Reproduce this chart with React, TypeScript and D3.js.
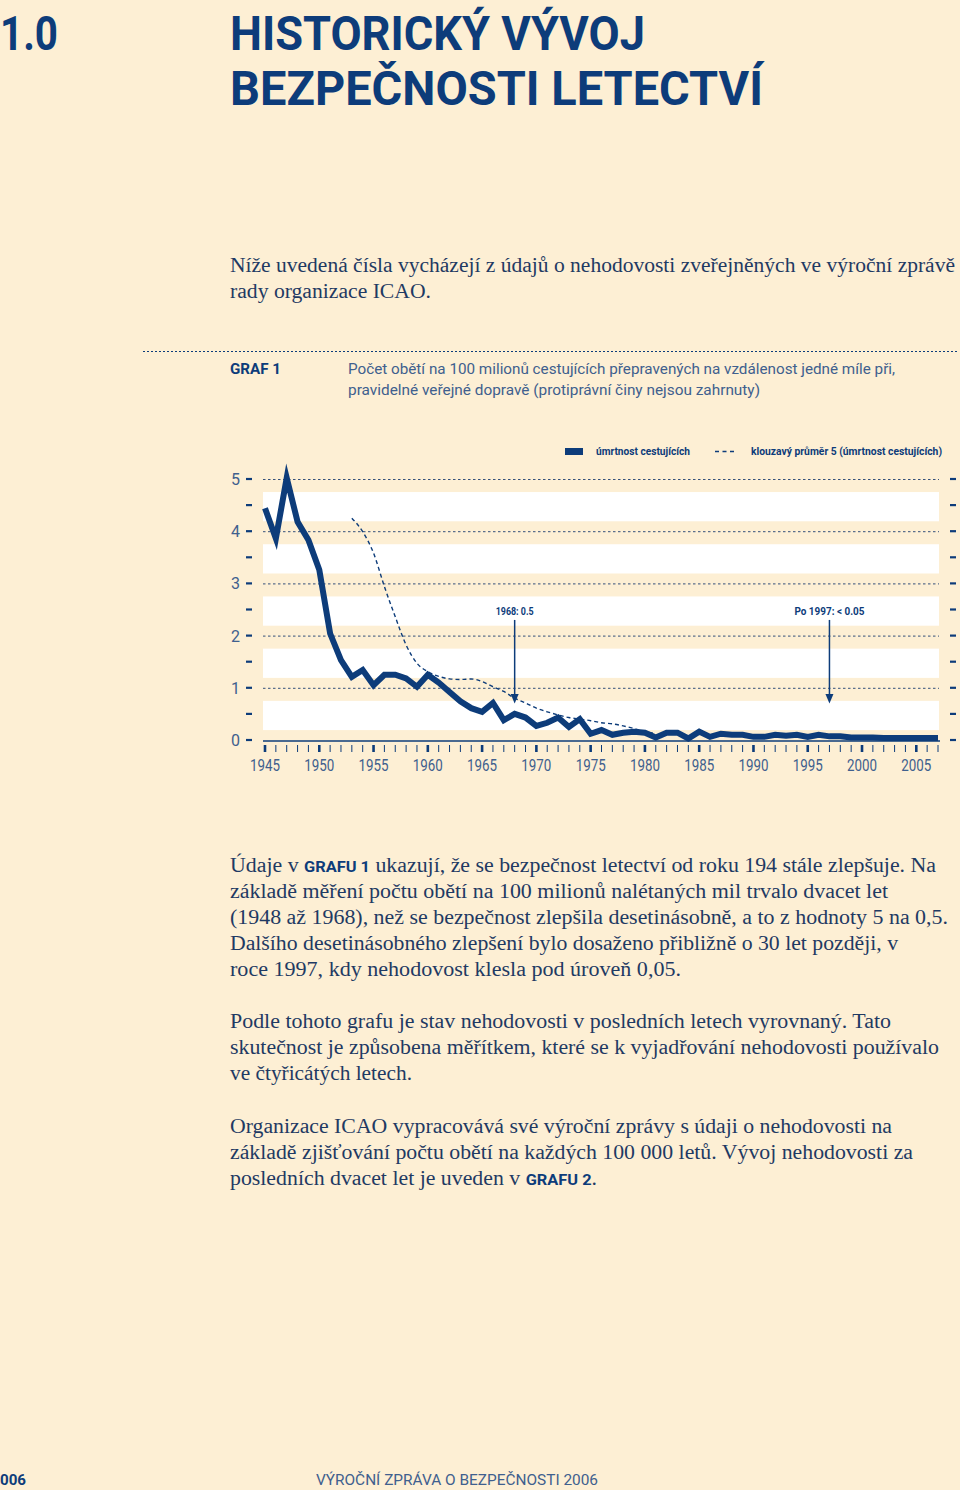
import React from "react";
import * as d3 from "d3";

// ---------- data ----------
const years: number[] = d3.range(1945, 2008);
const fatalities: number[] = [
  4.44, 3.86, 5.02, 4.18, 3.83, 3.26, 2.04, 1.53, 1.21, 1.34,
  1.05, 1.25, 1.25, 1.18, 1.02, 1.25, 1.10, 0.92, 0.74, 0.61,
  0.54, 0.71, 0.38, 0.50, 0.43, 0.27, 0.33, 0.43, 0.25, 0.40,
  0.12, 0.19, 0.10, 0.14, 0.16, 0.14, 0.05, 0.14, 0.14, 0.03,
  0.16, 0.06, 0.12, 0.10, 0.10, 0.06, 0.06, 0.10, 0.08, 0.10,
  0.06, 0.10, 0.07, 0.07, 0.05, 0.05, 0.05, 0.04, 0.04, 0.04,
  0.04, 0.04, 0.04,
];
const maYears: number[] = d3.range(1953, 1982);
const movingAvg: number[] = [
  4.25, 3.99, 3.58, 2.94, 2.36, 1.82, 1.47, 1.31, 1.22, 1.17,
  1.16, 1.17, 1.12, 1.02, 0.93, 0.80, 0.71, 0.61, 0.54, 0.48,
  0.43, 0.40, 0.37, 0.33, 0.31, 0.27, 0.22, 0.16, 0.12,
];
const yTickValues: number[] = [0, 1, 2, 3, 4, 5];
const xLabelYears: number[] = [1945, 1950, 1955, 1960, 1965, 1970, 1975, 1980, 1985, 1990, 1995, 2000, 2005];
const annotations = [
  { year: 1968, label: "1968: 0.5" },
  { year: 1997, label: "Po 1997: < 0.05" },
];
const legendLabels = ["úmrtnost cestujících", "klouzavý průměr 5 (úmrtnost cestujících)"];

const introLines = [
  "Níže uvedená čísla vycházejí z údajů o nehodovosti zveřejněných ve výroční zprávě",
  "rady organizace ICAO.",
];
const captionLines = [
  "Počet obětí na 100 milionů cestujících přepravených na vzdálenost jedné míle při,",
  "pravidelné veřejné dopravě (protiprávní činy nejsou zahrnuty)",
];

const NAVY = "#0d3c7a";
const TEXT = "#1f3a63";
const GREY = "#40608e";
const BG = "#fdefd4";

const SERIF = "'Liberation Serif', 'DejaVu Serif', serif";
const SANS = "Roboto, 'Open Sans', sans-serif";

type Seg = { t: string; bold?: boolean };
type Line = { segs: Seg[]; w: number; y: number };

const bodyLines: Line[] = [
  { segs: [{ t: "Údaje v " }, { t: "GRAFU 1", bold: true }, { t: " ukazují, že se bezpečnost letectví od roku 194 stále zlepšuje. Na" }], w: 706, y: 872 },
  { segs: [{ t: "základě měření počtu obětí na 100 milionů nalétaných mil trvalo dvacet let" }], w: 658, y: 898 },
  { segs: [{ t: "(1948 až 1968), než se bezpečnost zlepšila desetinásobně, a to z hodnoty 5 na 0,5." }], w: 718, y: 924 },
  { segs: [{ t: "Dalšího desetinásobného zlepšení bylo dosaženo přibližně o 30 let později, v" }], w: 668, y: 950 },
  { segs: [{ t: "roce 1997, kdy nehodovost klesla pod úroveň 0,05." }], w: 451, y: 976 },
  { segs: [{ t: "Podle tohoto grafu je stav nehodovosti v posledních letech vyrovnaný. Tato" }], w: 661, y: 1028 },
  { segs: [{ t: "skutečnost je způsobena měřítkem, které se k vyjadřování nehodovosti používalo" }], w: 709, y: 1054 },
  { segs: [{ t: "ve čtyřicátých letech." }], w: 182, y: 1080 },
  { segs: [{ t: "Organizace ICAO vypracovává své výroční zprávy s údaji o nehodovosti na" }], w: 662, y: 1133 },
  { segs: [{ t: "základě zjišťování počtu obětí na každých 100 000 letů. Vývoj nehodovosti za" }], w: 683, y: 1159 },
  { segs: [{ t: "posledních dvacet let je uveden v " }, { t: "GRAFU 2", bold: true }, { t: "." }], w: 367, y: 1185 },
];

export default function App() {
  const x = d3.scaleLinear().domain([1945, 2007]).range([265, 938]);
  const y = d3.scaleLinear().domain([0, 5]).range([740, 479]);

  const line = d3
    .line<number>()
    .x((_, i) => x(years[i]))
    .y((d) => y(d));
  const maLine = d3
    .line<number>()
    .x((_, i) => x(maYears[i]))
    .y((d) => y(d))
    .curve(d3.curveMonotoneX);

  const halfTicks = d3.range(0, 5.01, 0.5);
  const bandCenters = [0.5, 1.5, 2.5, 3.5, 4.5];
  const gridLeft = 263;
  const gridRight = 939;

  return (
    <svg
      width={960}
      height={1490}
      style={{ position: "absolute", left: 0, top: 0, display: "block" }}
    >
      <rect x={0} y={0} width={960} height={1490} fill={BG} />

      {/* Title */}
      <g fill={NAVY} fontFamily={SANS} fontWeight={700} fontSize={49}>
        <text x={0} y={50} textLength={58} lengthAdjust="spacingAndGlyphs">1.0</text>
        <text x={230} y={50} textLength={415} lengthAdjust="spacingAndGlyphs">HISTORICKÝ VÝVOJ</text>
        <text x={230} y={105} textLength={533} lengthAdjust="spacingAndGlyphs">BEZPEČNOSTI LETECTVÍ</text>
      </g>

      {/* Intro */}
      <g fill={TEXT} fontFamily={SERIF} fontSize={20}>
        <text x={230} y={272} textLength={725} lengthAdjust="spacingAndGlyphs">{introLines[0]}</text>
        <text x={230} y={298} textLength={201} lengthAdjust="spacingAndGlyphs">{introLines[1]}</text>
      </g>

      {/* separator */}
      <line x1={143} x2={957} y1={351.5} y2={351.5} stroke={NAVY} strokeWidth={1} strokeDasharray="2,2" />

      {/* Graph caption */}
      <text x={230} y={374} fill={NAVY} fontFamily={SANS} fontWeight={700} fontSize={15} textLength={51} lengthAdjust="spacingAndGlyphs">GRAF 1</text>
      <g fill={GREY} fontFamily={SANS} fontSize={15}>
        <text x={348} y={374} textLength={547} lengthAdjust="spacingAndGlyphs">{captionLines[0]}</text>
        <text x={348} y={395} textLength={412} lengthAdjust="spacingAndGlyphs">{captionLines[1]}</text>
      </g>

      {/* Legend */}
      <rect x={565} y={448} width={18} height={7} fill={NAVY} />
      <text x={596} y={455} fill={NAVY} fontFamily={SANS} fontWeight={700} fontSize={10.5} textLength={94} lengthAdjust="spacingAndGlyphs">{legendLabels[0]}</text>
      <line x1={715} x2={737} y1={451.5} y2={451.5} stroke={NAVY} strokeWidth={1.5} strokeDasharray="4,3.5" />
      <text x={751} y={455} fill={NAVY} fontFamily={SANS} fontWeight={700} fontSize={10.5} textLength={191} lengthAdjust="spacingAndGlyphs">{legendLabels[1]}</text>

      {/* white bands */}
      {bandCenters.map((c) => (
        <rect key={c} x={gridLeft} width={gridRight - gridLeft} y={y(c + 0.25)} height={y(c - 0.31) - y(c + 0.25)} fill="#ffffff" />
      ))}

      {/* gridlines */}
      {[1, 2, 3, 4, 5].map((v) => (
        <line key={v} x1={gridLeft} x2={gridRight} y1={y(v) + 0.5} y2={y(v) + 0.5} stroke="#35507a" strokeWidth={1} strokeDasharray="2.5,2.5" />
      ))}
      <line x1={gridLeft} x2={gridRight + 1} y1={y(0) + 1} y2={y(0) + 1} stroke={NAVY} strokeWidth={1.5} />

      {/* left and right axis dashes */}
      {halfTicks.map((v) => (
        <g key={v}>
          <line x1={246} x2={252} y1={y(v)} y2={y(v)} stroke={NAVY} strokeWidth={2.2} />
          <line x1={950} x2={956} y1={y(v)} y2={y(v)} stroke={NAVY} strokeWidth={2.2} />
        </g>
      ))}
      {yTickValues.map((v) => (
        <text key={v} x={240} y={y(v) + 6} textAnchor="end" fill={GREY} fontFamily={SANS} fontSize={16}>{v}</text>
      ))}

      {/* x ticks */}
      {years.map((yr) => {
        const major = (yr - 1945) % 5 === 0;
        return (
          <line key={yr} x1={x(yr)} x2={x(yr)} y1={745} y2={752} stroke={NAVY} strokeWidth={major ? 2.6 : 1} />
        );
      })}
      {xLabelYears.map((yr) => (
        <text key={yr} x={x(yr)} y={771} textAnchor="middle" fill={GREY} fontFamily={SANS} fontSize={16} textLength={30} lengthAdjust="spacingAndGlyphs">{yr}</text>
      ))}

      {/* moving average */}
      <path d={maLine(movingAvg) || ""} fill="none" stroke={NAVY} strokeWidth={1.4} strokeDasharray="4,3" />

      {/* main line */}
      <path d={line(fatalities) || ""} fill="none" stroke={NAVY} strokeWidth={6} strokeLinejoin="miter" strokeMiterlimit={6} />

      {/* annotations */}
      {annotations.map((a) => (
        <g key={a.year}>
          <text x={x(a.year)} y={615} textAnchor="middle" fill={NAVY} fontFamily={SANS} fontWeight={700} fontSize={10.5} textLength={a.year === 1968 ? 38 : 70} lengthAdjust="spacingAndGlyphs">{a.label}</text>
          <line x1={x(a.year)} x2={x(a.year)} y1={y(2.3)} y2={y(0.85)} stroke={NAVY} strokeWidth={1.5} />
          <path d={`M${x(a.year) - 4},${y(0.88)} L${x(a.year) + 4},${y(0.88)} L${x(a.year)},${y(0.7)} Z`} fill={NAVY} />
        </g>
      ))}

      {/* body text */}
      <g fill={TEXT} fontFamily={SERIF} fontSize={20}>
        {bodyLines.map((ln, i) => (
          <text key={i} x={230} y={ln.y} textLength={ln.w} lengthAdjust="spacingAndGlyphs">
            {ln.segs.map((s, j) =>
              s.bold ? (
                <tspan key={j} fontFamily={SANS} fontWeight={700} fontSize={15} fill={NAVY}>{s.t}</tspan>
              ) : (
                <tspan key={j}>{s.t}</tspan>
              )
            )}
          </text>
        ))}
      </g>

      {/* footer */}
      <text x={0} y={1485} fill={NAVY} fontFamily={SANS} fontWeight={700} fontSize={15} textLength={26} lengthAdjust="spacingAndGlyphs">006</text>
      <text x={316} y={1485} fill={GREY} fontFamily={SANS} fontSize={15} textLength={282} lengthAdjust="spacingAndGlyphs">VÝROČNÍ ZPRÁVA O BEZPEČNOSTI 2006</text>
    </svg>
  );
}
